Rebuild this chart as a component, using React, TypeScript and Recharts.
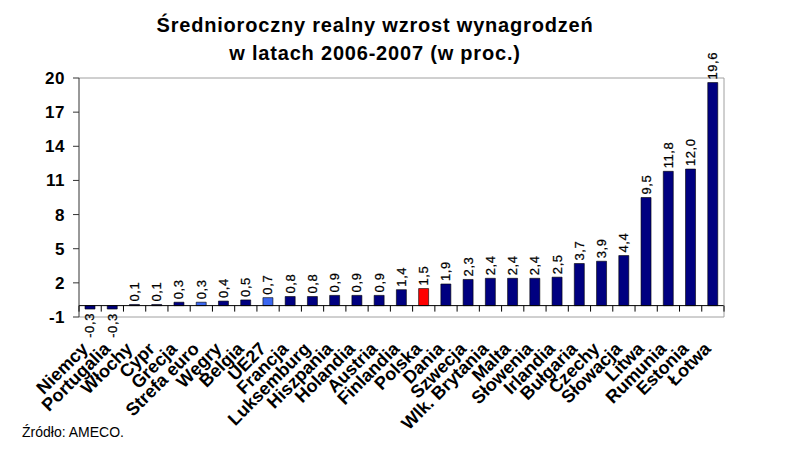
import React from 'react';
import {
  BarChart,
  Bar,
  XAxis,
  YAxis,
  CartesianGrid,
  ReferenceLine,
  LabelList,
  Cell,
} from 'recharts';

const categories = [
  'Niemcy', 'Portugalia', 'Włochy', 'Cypr', 'Grecja', 'Strefa euro', 'Węgry',
  'Belgia', 'UE27', 'Francja', 'Luksemburg', 'Hiszpania', 'Holandia', 'Austria',
  'Finlandia', 'Polska', 'Dania', 'Szwecja', 'Wlk. Brytania', 'Malta', 'Słowenia',
  'Irlandia', 'Bułgaria', 'Czechy', 'Słowacja', 'Litwa', 'Rumunia', 'Estonia', 'Łotwa',
];

const growth = [
  -0.3, -0.3, 0.1, 0.1, 0.3, 0.3, 0.4,
  0.5, 0.7, 0.8, 0.8, 0.9, 0.9, 0.9,
  1.4, 1.5, 1.9, 2.3, 2.4, 2.4, 2.4,
  2.5, 3.7, 3.9, 4.4, 9.5, 11.8, 12.0, 19.6,
];

const yTicks = [-1, 2, 5, 8, 11, 14, 17, 20];

const aggregates = ['Strefa euro', 'UE27'];
const highlighted = 'Polska';

const data = categories.map((name, i) => ({ name, value: growth[i] }));

const FONT = '"Liberation Sans", Arial, sans-serif';
const W = 793;
const H = 450;
const PLOT_LEFT = 79;
const PLOT_RIGHT = 724;
const PLOT_TOP = 78;
const PLOT_BOTTOM = 317;
const Y_MIN = -1;
const Y_MAX = 20;
const ZERO_Y = PLOT_TOP + ((PLOT_BOTTOM - PLOT_TOP) * Y_MAX) / (Y_MAX - Y_MIN);
const BAND = (PLOT_RIGHT - PLOT_LEFT) / categories.length;

const fmt = (v: number) => v.toFixed(1).replace('.', ',');

const barColor = (name: string) => {
  if (name === highlighted) return '#FF0000';
  if (aggregates.includes(name)) return '#3A66F0';
  return '#000080';
};

function CategoryTick(props: any) {
  const { x, payload, index } = props;
  const cx = Number(x);
  const ax = cx - 1;
  const ay = PLOT_BOTTOM + 33;
  return (
    <g>
      <line x1={cx - BAND / 2} x2={cx - BAND / 2} y1={ZERO_Y} y2={ZERO_Y + 6} stroke="#000" />
      {index === categories.length - 1 && (
        <line x1={cx + BAND / 2} x2={cx + BAND / 2} y1={ZERO_Y} y2={ZERO_Y + 6} stroke="#000" />
      )}
      <text
        x={ax}
        y={ay}
        textAnchor="end"
        transform={`rotate(-45 ${ax} ${ay})`}
        fontFamily={FONT}
        fontWeight="bold"
        fontSize={18}
        fill="#000"
      >
        {payload.value}
      </text>
    </g>
  );
}

function ValueLabel(props: any) {
  const { x, y, width, height, value } = props;
  const v = Number(value);
  const cx = Number(x) + Number(width) / 2;
  const top = Math.min(Number(y), Number(y) + Number(height));
  const bottom = Math.max(Number(y), Number(y) + Number(height));
  const ax = cx + 4.5;
  const ay = v >= 0 ? top - 3 : bottom + 4;
  return (
    <text
      x={ax}
      y={ay}
      textAnchor={v >= 0 ? 'start' : 'end'}
      transform={`rotate(-90 ${ax} ${ay})`}
      fontFamily={FONT}
      fontSize={13}
      letterSpacing={0.6}
      fill="#000"
      stroke="#000"
      strokeWidth={0.25}
    >
      {fmt(v)}
    </text>
  );
}

export default function App() {
  return (
    <div style={{ position: 'absolute', left: 0, top: 0, width: W, height: H, background: '#fff', fontFamily: FONT }}>
      <div
        style={{
          position: 'absolute',
          left: 0,
          top: 11,
          width: 750,
          textAlign: 'center',
          fontSize: 20,
          fontWeight: 'bold',
          lineHeight: '28px',
          letterSpacing: 0.8,
          color: '#000',
        }}
      >
        Średnioroczny realny wzrost wynagrodzeń
        <br />
        w latach 2006-2007 (w proc.)
      </div>
      <BarChart
        width={W}
        height={H}
        data={data}
        margin={{ top: PLOT_TOP, right: W - PLOT_RIGHT - 1, left: PLOT_LEFT - 40, bottom: H - PLOT_BOTTOM - 100 }}
        barSize={10}
      >
        <CartesianGrid vertical={false} stroke="#A0A0A0" strokeWidth={1} />
        <XAxis
          dataKey="name"
          interval={0}
          height={100}
          axisLine={false}
          tickLine={false}
          tick={<CategoryTick />}
        />
        <YAxis
          yAxisId="left"
          width={40}
          domain={[Y_MIN, Y_MAX]}
          ticks={yTicks}
          interval={0}
          allowDataOverflow
          axisLine={{ stroke: '#333' }}
          tickLine={{ stroke: '#333' }}
          tickSize={6}
          tickMargin={8}
          tick={{ fontFamily: FONT, fontWeight: 'bold', fontSize: 17, fill: '#000', letterSpacing: 0.5 }}
        />
        <YAxis
          yAxisId="right"
          orientation="right"
          width={1}
          domain={[Y_MIN, Y_MAX]}
          tick={false}
          tickLine={false}
          axisLine={{ stroke: '#A0A0A0' }}
        />
        <ReferenceLine yAxisId="left" y={0} stroke="#000" strokeWidth={1} />
        <Bar yAxisId="left" dataKey="value" stroke="#000" strokeWidth={0.6} isAnimationActive={false}>
          {data.map((d) => (
            <Cell key={d.name} fill={barColor(d.name)} />
          ))}
          <LabelList dataKey="value" content={<ValueLabel />} />
        </Bar>
      </BarChart>
      <div
        style={{
          position: 'absolute',
          left: 22,
          top: 424,
          fontSize: 14,
          lineHeight: '16px',
          color: '#000',
        }}
      >
        Źródło: AMECO.
      </div>
    </div>
  );
}
